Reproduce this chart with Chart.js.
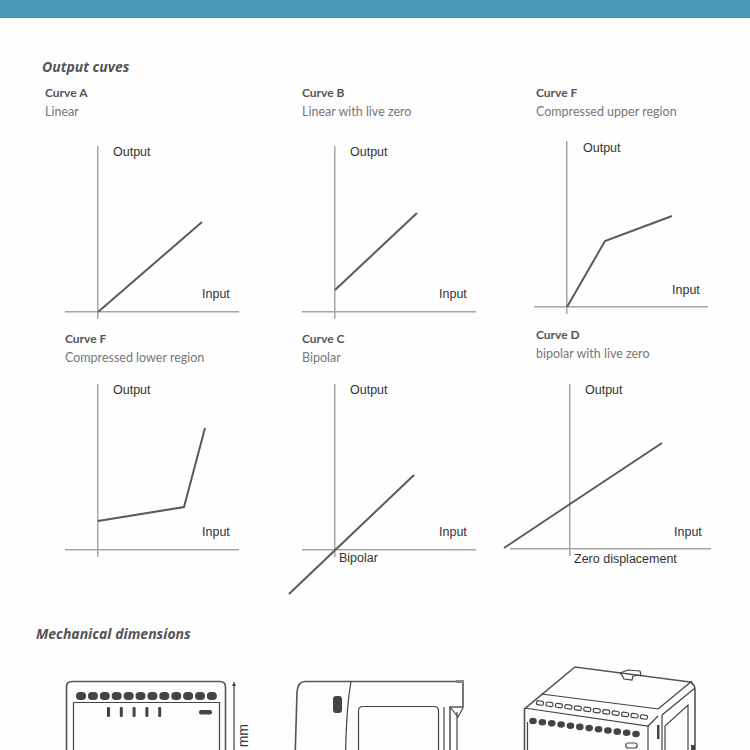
<!DOCTYPE html>
<html>
<head>
<meta charset="utf-8">
<title>Output curves</title>
<script src="https://cdn.jsdelivr.net/npm/chart.js@4"></script>
<style>
  html, body { margin: 0; padding: 0; background: #fff; }
  #page { position: relative; width: 750px; height: 750px; overflow: hidden; background: #fefefe; }
  #band { position: absolute; left: 0; top: 0; width: 750px; height: 18px; background: #4a9ab7; }
  #art { position: absolute; left: 0; top: 0; }
  canvas { position: absolute; }
  .section { font: italic 700 14px "Noto Sans", sans-serif; fill: #555; }
  .curve { font: 700 12px Lato, sans-serif; fill: #555; }
  .sub { font: 400 12.5px Lato, sans-serif; fill: #777; }
  .axis { font: 400 12.5px "Liberation Sans", Arial, sans-serif; fill: #333; }
  .draw { fill: none; stroke: #444; stroke-width: 1.2; }
  .thick { fill: none; stroke: #555; stroke-width: 1.6; }
  .solid { fill: #444; stroke: none; }
</style>
</head>
<body>
<div id="page">
  <div id="band"></div>
  <svg id="art" width="750" height="750" xmlns="http://www.w3.org/2000/svg">
    <text class="section" x="42" y="72">Output cuves</text>
    <text class="section" x="36" y="639">Mechanical dimensions</text>

    <text class="curve" x="45" y="97">Curve A</text>
    <text class="sub" x="45" y="116">Linear</text>
    <text class="curve" x="302" y="97">Curve B</text>
    <text class="sub" x="302" y="116">Linear with live zero</text>
    <text class="curve" x="536" y="97">Curve F</text>
    <text class="sub" x="536" y="116">Compressed upper region</text>
    <text class="curve" x="65" y="343">Curve F</text>
    <text class="sub" x="65" y="362">Compressed lower region</text>
    <text class="curve" x="302" y="343">Curve C</text>
    <text class="sub" x="302" y="362">Bipolar</text>
    <text class="curve" x="536" y="339">Curve D</text>
    <text class="sub" x="536" y="358">bipolar with live zero</text>

    <text class="axis" x="113" y="156">Output</text>
    <text class="axis" x="202" y="298">Input</text>
    <text class="axis" x="350" y="156">Output</text>
    <text class="axis" x="439" y="298">Input</text>
    <text class="axis" x="583" y="152">Output</text>
    <text class="axis" x="672" y="294">Input</text>
    <text class="axis" x="113" y="394">Output</text>
    <text class="axis" x="202" y="536">Input</text>
    <text class="axis" x="350" y="394">Output</text>
    <text class="axis" x="439" y="536">Input</text>
    <text class="axis" x="339" y="562">Bipolar</text>
    <text class="axis" x="585" y="394">Output</text>
    <text class="axis" x="674" y="536">Input</text>
    <text class="axis" x="574" y="563">Zero displacement</text>

    <!-- front view -->
    <path class="thick" d="M66.5 760 V687 Q66.5 681.5 72 681.5 H220 Q225.5 681.5 225.5 687 V760"/>
    <path class="draw" d="M73.5 760 V702.5 H219.5 V760"/>
    <g id="frontDots"></g>
    <g id="frontBars"></g>
    <rect class="solid" x="199" y="710" width="13" height="4.5" rx="2"/>
    <path class="draw" d="M234 684 V760"/>
    <path class="solid" d="M234 681.5 L232 686 H236 Z"/>
    <text class="axis" transform="translate(248 759) rotate(-90)" style="font-size:14px">5 mm</text>

    <!-- side view -->
    <path class="thick" d="M295 760 L297 692 Q298 681.5 305 681.5 H463 V707 H450 V760"/>
    <path class="draw" d="M351 681.5 Q346 710 345.5 760"/>
    <rect class="solid" x="333" y="696" width="9" height="17" rx="3"/>
    <path class="draw" d="M358.5 760 V711 Q358.5 706.5 363 706.5 H434 Q438.5 706.5 438.5 711 V760"/>
    <path class="draw" d="M444 760 V707 M457 760 V712 M450 707 L458 717 L463 708"/>
    <rect x="456" y="680" width="8" height="3" fill="#888"/>

    <!-- perspective view -->
    <path class="thick" d="M524.5 760 V709 L575 667 L690 682 Q695 684 695 690 V760"/>
    <path class="draw" d="M524.5 708 L648 726 L658 716 M541 694 L659 709 M658 709 L692 681 M662 715 L695 688"/>
    <path class="draw" d="M648 726 V760 M662 715 V760 M527.5 722 V760"/>
    <path class="draw" d="M665 760 V726 L688 705 V760"/>
    <rect class="solid" x="657" y="725" width="2.5" height="14"/>
    <path class="draw" d="M620 673 L628 670 L640 671 L641 675 L633 676 L632 680 L624 679 L622 675 Z"/>
    <rect class="draw" x="626" y="743" width="11" height="5" rx="2"/>
    <rect class="solid" x="691" y="745" width="4" height="6"/>
    <g id="topPills"></g>
    <g id="isoDots"></g>
  </svg>
</div>

<script>
// one unit = one pixel from the axis crossing
const curveAInput = [0, 104];
const curveAOutput = [0, 90];
const curveBInput = [0, 82];
const curveBOutput = [22, 99];
const curveFUpperInput = [0, 38, 105];
const curveFUpperOutput = [0, 66, 91];
const curveFLowerInput = [0, 86, 107];
const curveFLowerOutput = [29, 43, 122];
const curveCInput = [-46, 79];
const curveCOutput = [-44, 75];
const curveDInput = [-66, 0, 92];
const curveDOutput = [1, 45, 106];

const pad = 60;
const AXIS_COLOR = '#a6a6a6';
const LINE_COLOR = '#5a5a5a';

function toPoints(xs, ys) {
  return xs.map((x, i) => ({ x, y: ys[i] }));
}

function mountCurve(box, range, xs, ys, label) {
  const canvas = document.createElement('canvas');
  canvas.width = box.w + pad * 2;
  canvas.height = box.h + pad * 2;
  canvas.style.left = `${box.left - pad}px`;
  canvas.style.top = `${box.top - pad}px`;
  canvas.setAttribute('aria-label', label);
  document.getElementById('page').appendChild(canvas);

  return new Chart(canvas, {
    type: 'line',
    data: {
      datasets: [{
        label,
        data: toPoints(xs, ys),
        borderColor: LINE_COLOR,
        borderWidth: 2,
        pointRadius: 0,
        tension: 0,
        clip: false,
      }],
    },
    options: {
      responsive: false,
      animation: false,
      layout: { padding: pad },
      plugins: { legend: { display: false }, tooltip: { enabled: false } },
      scales: {
        x: {
          type: 'linear',
          min: range.xMin,
          max: range.xMax,
          position: { y: 0 },
          grid: { display: false, drawTicks: false },
          ticks: { display: false },
          border: { color: AXIS_COLOR, width: 1.5 },
        },
        y: {
          type: 'linear',
          min: range.yMin,
          max: range.yMax,
          position: { x: 0 },
          grid: { display: false, drawTicks: false },
          ticks: { display: false },
          border: { color: AXIS_COLOR, width: 1.5 },
        },
      },
    },
  });
}

const standardRange = { xMin: -32, xMax: 140, yMin: -6, yMax: 165 };

mountCurve({ left: 66, top: 147, w: 172, h: 171 }, standardRange, curveAInput, curveAOutput, 'Curve A, linear');
mountCurve({ left: 303, top: 147, w: 172, h: 171 }, standardRange, curveBInput, curveBOutput, 'Curve B, linear with live zero');
mountCurve({ left: 535, top: 142, w: 172, h: 171 }, standardRange, curveFUpperInput, curveFUpperOutput, 'Curve F, compressed upper region');
mountCurve({ left: 66, top: 385, w: 172, h: 171 }, standardRange, curveFLowerInput, curveFLowerOutput, 'Curve F, compressed lower region');
mountCurve({ left: 303, top: 385, w: 172, h: 171 }, standardRange, curveCInput, curveCOutput, 'Curve C, bipolar');
mountCurve({ left: 511, top: 385, w: 199, h: 170 }, { xMin: -59, xMax: 140, yMin: -6, yMax: 164 }, curveDInput, curveDOutput, 'Curve D, bipolar with live zero');

// repeated bits of the mechanical drawings
const NS = 'http://www.w3.org/2000/svg';
function addShape(groupId, tag, attrs) {
  const el = document.createElementNS(NS, tag);
  Object.entries(attrs).forEach(([k, v]) => el.setAttribute(k, v));
  document.getElementById(groupId).appendChild(el);
}

for (let i = 0; i < 12; i++) {
  addShape('frontDots', 'rect', { class: 'solid', x: 76 + i * 11.9, y: 692, width: 10, height: 8, rx: 4 });
  const t = i / 11;
  addShape('isoDots', 'ellipse', { class: 'solid', cx: 533 + t * 103, cy: 721 + t * 13, rx: 3.8, ry: 3.3 });
  addShape('topPills', 'rect', {
    class: 'draw', x: -3.5, y: -2, width: 7, height: 4, rx: 1.5,
    transform: `translate(${540 + t * 104} ${703 + t * 14}) rotate(8)`,
  });
}
for (let i = 0; i < 5; i++) {
  addShape('frontBars', 'rect', { class: 'solid', x: 107 + i * 12.8, y: 707, width: 3, height: 10, rx: 1 });
}
</script>
</body>
</html>
